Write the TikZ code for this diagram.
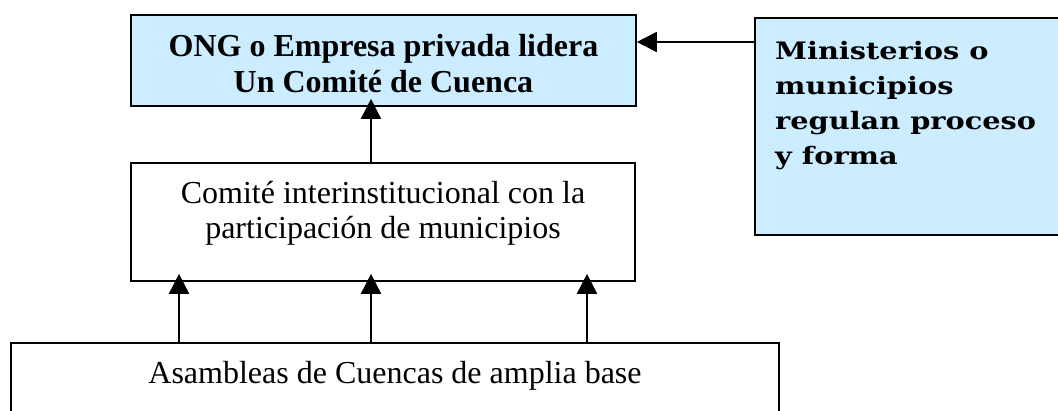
\documentclass[tikz,border=0pt]{standalone}
\usepackage{fontspec}
\setmainfont{Liberation Serif}
\newfontfamily\slabfont[FakeStretch=1.2]{DejaVu Serif}
\usepackage{tikz}
\usetikzlibrary{arrows.meta,positioning}
\definecolor{cuencablue}{RGB}{204,236,255}
\tikzstyle{caja} = [draw, line width=1.6pt, inner sep=0pt]
\tikzstyle{flecha} = [line width=1.6pt,-{Triangle[length=20pt,width=20pt]}]
\tikzstyle{texto} = [align=center, inner sep=0pt, font=\fontsize{32}{35}\selectfont]

\begin{document}
\begin{tikzpicture}[x=1pt, y=-1pt]
\useasboundingbox (0,0) rectangle (1058,410);
\clip (0,0) rectangle (1058,410);

% Top box
\node[caja, fill=cuencablue, minimum width=505pt, minimum height=91pt] (lider) at (383.5,60.5) {};
\node[texto, anchor=base, font=\bfseries\fontsize{32}{36}\selectfont] (liderTxt) at (383.5,92) {ONG o Empresa privada lidera\\Un Comité de Cuenca};

% Right box
\node[caja, fill=cuencablue, minimum width=320pt, minimum height=217pt] (regula) at (915,126.5) {};
\node[anchor=base west, align=left, inner sep=0pt, font=\slabfont\bfseries\fontsize{24}{35}\selectfont] (regulaTxt) at (775,164) {Ministerios o\\municipios\\regulan proceso\\y forma};

% Middle box
\node[caja, minimum width=504pt, minimum height=118pt] (comite) at (383,222) {};
\node[texto, anchor=base] (comiteTxt) at (383,238) {Comité interinstitucional con la\\participación de municipios};

% Bottom box
\node[caja, minimum width=768pt, minimum height=97pt] (base) at (395,391.5) {};
\node[texto, anchor=base] (baseTxt) at (395,383) {Asambleas de Cuencas de amplia base};

% Arrows
\coordinate (h) at (0,42);
\coordinate (v1) at (179,0);
\coordinate (v2) at (371,0);
\coordinate (v3) at (587,0);
\draw[flecha] (regula.west |- h) -- (lider.east |- h);
\draw[flecha, shorten >=-8pt] (comite.north -| v2) -- (lider.south -| v2);
\draw[flecha, shorten >=-8pt] (base.north -| v1) -- (comite.south -| v1);
\draw[flecha, shorten >=-8pt] (base.north -| v2) -- (comite.south -| v2);
\draw[flecha, shorten >=-8pt] (base.north -| v3) -- (comite.south -| v3);
\end{tikzpicture}
\end{document}
